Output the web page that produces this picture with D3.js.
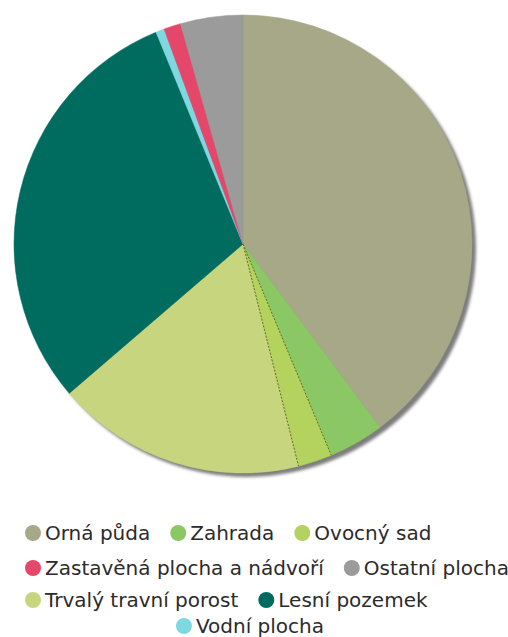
<!DOCTYPE html>
<html><head><meta charset="utf-8">
<script src="https://cdn.jsdelivr.net/npm/d3@7"></script>
<style>html,body{margin:0;padding:0;background:#fff;}</style>
</head><body>
<svg id="c" width="508" height="637"></svg>
<script>
// Data (percent shares), in clockwise slice order
const categories = ["Orná půda","Zahrada","Ovocný sad","Trvalý travní porost","Lesní pozemek","Vodní plocha","Zastavěná plocha a nádvoří","Ostatní plocha"];
const values = [39.8, 3.9, 2.4, 17.6, 30.1, 0.6, 1.2, 4.4];
const colors = ["#a7a888","#8cc766","#b3d25e","#c8d57f","#006b5f","#7fd7e0","#e5476b","#9b9b9b"];
// Legend rows (category names)
const legendRows = [
  ["Orná půda","Zahrada","Ovocný sad"],
  ["Zastavěná plocha a nádvoří","Ostatní plocha"],
  ["Trvalý travní porost","Lesní pozemek"],
  ["Vodní plocha"]
];

const svg = d3.select("#c");
const cx = 243, cy = 244, r = 229;
const data = categories.map((c,i)=>({name:c, value:values[i], color:colors[i]}));
const pie = d3.pie().sort(null).value(d=>d.value).startAngle(0).endAngle(2*Math.PI);
const arc = d3.arc().innerRadius(0).outerRadius(r);
const arcs = pie(data);

const defs = svg.append("defs");
const f = defs.append("filter").attr("id","sh").attr("x","-10%").attr("y","-10%").attr("width","130%").attr("height","130%");
f.append("feGaussianBlur").attr("stdDeviation",1.5);
const fb = defs.append("filter").attr("id","soft");
fb.append("feGaussianBlur").attr("stdDeviation",0.6);

// shadow
svg.append("circle").attr("cx",cx+4).attr("cy",cy+4).attr("r",r)
  .attr("fill","#707070").attr("opacity",0.9).attr("filter","url(#sh)");

const g = svg.append("g").attr("transform",`translate(${cx},${cy})`);
g.selectAll("path.s").data(arcs).enter().append("path")
  .attr("class","s")
  .attr("d",arc)
  .attr("fill",d=>d.data.color)
  .attr("stroke",d=>d.data.color).attr("stroke-width",0.5);

// dotted borders around the orchard slice
const ov = arcs[2];
[ov.startAngle, ov.endAngle].forEach(a=>{
  g.append("line").attr("x1",0).attr("y1",0)
    .attr("x2",r*Math.sin(a)).attr("y2",-r*Math.cos(a))
    .attr("stroke","#5e6e22").attr("stroke-width",1).attr("stroke-dasharray","2,1.5");
});

// legend
const colorOf = Object.fromEntries(categories.map((c,i)=>[c,colors[i]]));
const rowBase = [540, 575, 607, 633];
const fontSize = 20, gap = 20, mr = 8, txtOff = 20;
legendRows.forEach((row,ri)=>{
  const gRow = svg.append("g");
  let x = 0;
  row.forEach(name=>{
    gRow.append("circle").attr("cx",x+mr).attr("cy",rowBase[ri]-7).attr("r",mr)
      .attr("fill",colorOf[name]).attr("filter","url(#soft)");
    const t = gRow.append("text").attr("x",x+txtOff).attr("y",rowBase[ri])
      .attr("font-family","DejaVu Sans").attr("font-size",fontSize).attr("fill","#2b2b2b")
      .text(name);
    x += txtOff + t.node().getComputedTextLength() + gap;
  });
  const w = x - gap;
  const startX = ri < 3 ? 25 : 250 - w/2;
  gRow.attr("transform",`translate(${startX},0)`);
});
</script>
</body></html>
